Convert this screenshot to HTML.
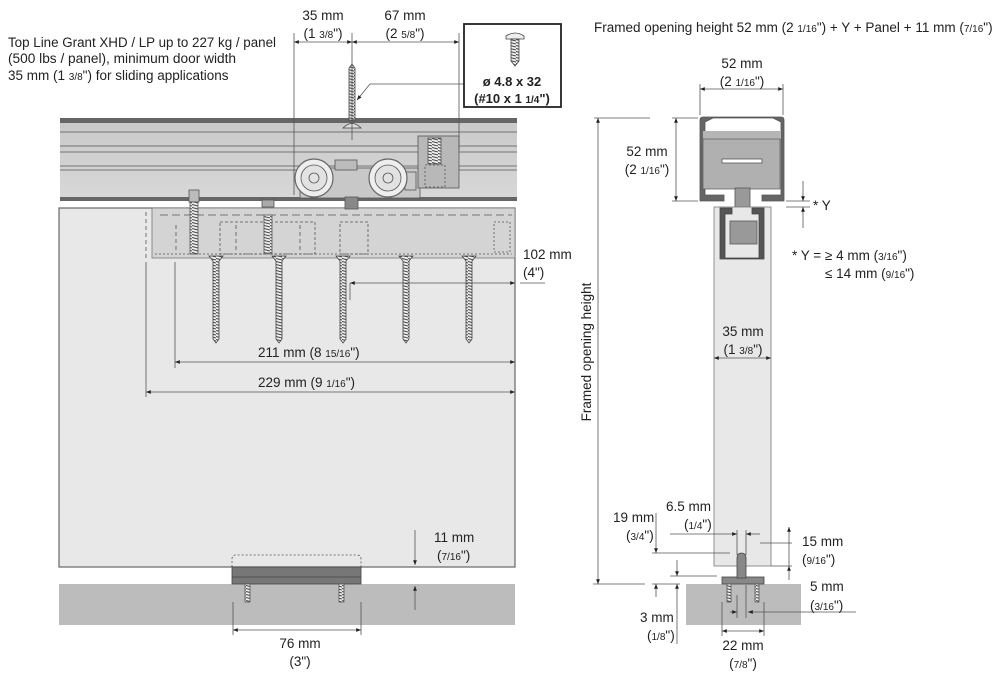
<!DOCTYPE html>
<html><head><meta charset="utf-8"><style>
html,body{margin:0;padding:0;background:#fff}
svg{display:block}
text{font-family:"Liberation Sans Narrow","Liberation Sans",sans-serif;fill:#222;font-size:13.5px}
.s{font-size:10px}
.b{font-weight:bold;font-family:"Liberation Sans",sans-serif;font-size:13px}
</style></head><body>
<svg width="1000" height="686" viewBox="0 0 1000 686" xmlns="http://www.w3.org/2000/svg">
<defs>
<marker id="a" viewBox="0 0 10 10" refX="10" refY="5" markerWidth="8" markerHeight="6" orient="auto-start-reverse"><path d="M0,1 L10,5 L0,9 z" fill="#222"/></marker>
<pattern id="th" width="6" height="3" patternUnits="userSpaceOnUse"><rect width="6" height="3" fill="#eee"/><path d="M0,0.5 L6,2" stroke="#444" stroke-width="1"/></pattern>
<linearGradient id="tg" x1="0" y1="0" x2="0" y2="1"><stop offset="0" stop-color="#c9c9c9"/><stop offset="1" stop-color="#d8d8d8"/></linearGradient>
</defs>
<g stroke="#555" stroke-width="0.8" fill="none">
<!-- LEFT: track -->
<rect x="60" y="119" width="457" height="82" fill="url(#tg)" stroke="none"/>
<rect x="60" y="118" width="457" height="5" fill="#666" stroke="none"/>
<rect x="60" y="197" width="457" height="4" fill="#666" stroke="none"/>
<line x1="60" y1="132" x2="517" y2="132"/><line x1="60" y1="146" x2="517" y2="146"/><line x1="60" y1="152" x2="517" y2="152"/><line x1="60" y1="166" x2="517" y2="166"/><line x1="60" y1="170" x2="517" y2="170"/>
<!-- panel -->
<rect x="59" y="208" width="456" height="359" fill="#e8e8e8" stroke="#666" stroke-width="1.2"/>
<!-- hanger plate -->
<rect x="152" y="208" width="363" height="50" fill="#d4d4d4" stroke="#777"/>
<line x1="160" y1="215" x2="512" y2="215" stroke-dasharray="8,4"/>
<line x1="155" y1="254" x2="512" y2="254" stroke-dasharray="2,2"/>
<rect x="220" y="222" width="95" height="32" stroke-dasharray="3,2"/>
<rect x="340" y="222" width="28" height="32" stroke-dasharray="3,2"/>
<rect x="494" y="222" width="16" height="30" stroke-dasharray="2,2"/>
<line x1="176" y1="225" x2="176" y2="252" stroke-dasharray="4,3"/><line x1="236" y1="225" x2="236" y2="252" stroke-dasharray="4,3"/><line x1="300" y1="225" x2="300" y2="252" stroke-dasharray="4,3"/>
<line x1="146" y1="212" x2="146" y2="258" stroke-dasharray="4,3"/>
<!-- bolt -->
<rect x="189" y="190" width="10" height="12" fill="#bbb"/>
<rect x="190" y="202" width="8" height="52" fill="url(#th)"/>
<rect x="262" y="200" width="12" height="7" fill="#aaa"/>
<rect x="264" y="215" width="8" height="38" fill="url(#th)"/>
<!-- trolley -->
<rect x="300" y="168" width="120" height="30" fill="#c8c8c8" stroke="#555"/>
<rect x="335" y="160" width="22" height="10" fill="#bbb"/>
<rect x="418" y="136" width="41" height="52" fill="#b8b8b8" stroke="#555"/>
<rect x="428" y="138" width="13" height="26" fill="url(#th)"/>
<rect x="425" y="165" width="20" height="22" stroke-dasharray="2,2"/>
<rect x="405" y="172" width="11" height="18" fill="#c8c8c8"/>
<circle cx="314" cy="178" r="19" fill="#eee" stroke="#666" stroke-width="1.2"/><circle cx="314" cy="178" r="13" fill="#e2e2e2"/><circle cx="314" cy="178" r="5"/>
<circle cx="388" cy="178" r="19" fill="#eee" stroke="#666" stroke-width="1.2"/><circle cx="388" cy="178" r="13" fill="#e2e2e2"/><circle cx="388" cy="178" r="5"/>
<rect x="345" y="197" width="13" height="12" fill="#888"/>
<!-- screws below plate -->
<g fill="url(#th)" stroke="#444">
<path d="M209,256 h14 l-4,5 v78 l-3,4 l-3,-4 v-78 z"/>
<path d="M272,256 h14 l-4,5 v78 l-3,4 l-3,-4 v-78 z"/>
<path d="M336,256 h14 l-4,5 v78 l-3,4 l-3,-4 v-78 z"/>
<path d="M399,256 h14 l-4,5 v78 l-3,4 l-3,-4 v-78 z"/>
<path d="M462,256 h14 l-4,5 v78 l-3,4 l-3,-4 v-78 z"/>
<!-- top screw -->
<path d="M349,68 l3,-4 l3,4 v52 h-6 z"/>
</g>
<path d="M343,128 q9,-9 18,0 z" fill="#ddd" stroke="#444"/>
<!-- floor & guide -->
<rect x="59" y="584" width="456" height="41" fill="#bcbcbc" stroke="none"/>
<path d="M232,567 v-8 q0,-4 4,-4 h121 q4,0 4,4 v8" stroke-dasharray="2,2"/>
<rect x="232" y="567" width="129" height="17" fill="#777" stroke="#444"/>
<line x1="232" y1="577" x2="361" y2="577" stroke="#444"/>
<rect x="245" y="584" width="5" height="18" fill="url(#th)"/><rect x="339" y="584" width="5" height="18" fill="url(#th)"/>
<!-- dims left -->
<line x1="294" y1="33" x2="294" y2="195"/><line x1="459" y1="33" x2="459" y2="150"/><line x1="352" y1="33" x2="352" y2="140"/>
<line x1="294" y1="42" x2="352" y2="42" marker-start="url(#a)" marker-end="url(#a)"/>
<line x1="352" y1="42" x2="459" y2="42" marker-start="url(#a)" marker-end="url(#a)"/>
<polyline points="470,84 370,84 357,100" marker-end="url(#a)"/>
<rect x="464" y="24" width="97" height="83" stroke="#222" stroke-width="1.8" fill="#fff"/>
<path d="M506,36 q9,-6 18,0 v3 h-18 z" fill="#eee" stroke="#444"/>
<path d="M511,39 h8 v22 l-4,5 l-4,-5 z" fill="url(#th)" stroke="#444"/>
<line x1="350" y1="283" x2="350" y2="300"/><line x1="520" y1="283" x2="545" y2="283"/>
<line x1="350" y1="283" x2="515" y2="283" marker-start="url(#a)" marker-end="url(#a)"/>
<line x1="175" y1="262" x2="175" y2="368"/><line x1="146" y1="262" x2="146" y2="397"/>
<line x1="175" y1="362" x2="515" y2="362" marker-start="url(#a)" marker-end="url(#a)"/>
<line x1="146" y1="392" x2="515" y2="392" marker-start="url(#a)" marker-end="url(#a)"/>
<line x1="415" y1="530" x2="415" y2="565" marker-end="url(#a)"/>
<line x1="415" y1="610" x2="415" y2="586" marker-end="url(#a)"/>
<line x1="233" y1="602" x2="233" y2="635"/><line x1="361" y1="602" x2="361" y2="635"/>
<line x1="233" y1="630" x2="361" y2="630" marker-start="url(#a)" marker-end="url(#a)"/>

<!-- RIGHT section -->
<path d="M700,120 q0,-3 3,-3 h78 q3,0 3,3 v81 h-22 v-6 h19 v-73 l-8,-4 h-60 l-8,4 v73 h19 v6 h-24 z" fill="#666" stroke="#555"/>
<rect x="703" y="131" width="77" height="8" fill="#b5b5b5" stroke="none"/>
<rect x="703" y="139" width="77" height="50" fill="#b0b0b0" stroke="#666"/>
<rect x="722" y="159" width="40" height="4" fill="#fff" stroke="#555"/>
<rect x="735" y="188" width="15" height="30" fill="#999" stroke="#555"/>
<rect x="714" y="207" width="57" height="359" fill="#e8e8e8" stroke="#777"/>
<path d="M720,208 h12 v6 h-7 v44 h34 v-44 h-7 v-6 h12 v51 h-44 z" fill="#555" stroke="#444"/>
<rect x="730" y="221" width="27" height="23" fill="#999" stroke="#555"/>
<rect x="686" y="584" width="115" height="41" fill="#bcbcbc" stroke="none"/>
<rect x="722" y="577" width="42" height="7" fill="#888" stroke="#444"/>
<path d="M737,578 v-20 q0,-5 4.5,-5 q4.5,0 4.5,5 v20 z" fill="#888" stroke="#444"/>
<line x1="737" y1="540" x2="737" y2="555"/><line x1="746" y1="540" x2="746" y2="555"/>
<rect x="727" y="584" width="4" height="18" fill="url(#th)"/><rect x="755" y="584" width="4" height="18" fill="url(#th)"/>
<!-- right dims -->
<line x1="700" y1="84" x2="700" y2="115"/><line x1="783" y1="84" x2="783" y2="115"/>
<line x1="700" y1="89" x2="783" y2="89" marker-start="url(#a)" marker-end="url(#a)"/>
<line x1="594" y1="118" x2="650" y2="118"/><line x1="672" y1="118" x2="698" y2="118"/><line x1="672" y1="201" x2="698" y2="201"/>
<line x1="676" y1="118" x2="676" y2="201" marker-start="url(#a)" marker-end="url(#a)"/>
<line x1="598" y1="118" x2="598" y2="584" marker-start="url(#a)" marker-end="url(#a)"/>
<line x1="593" y1="584" x2="645" y2="584"/>
<line x1="786" y1="201" x2="810" y2="201"/><line x1="786" y1="207" x2="810" y2="207"/>
<line x1="803" y1="181" x2="803" y2="201" marker-end="url(#a)"/><line x1="803" y1="228" x2="803" y2="207" marker-end="url(#a)"/>
<line x1="714" y1="358" x2="771" y2="358" marker-start="url(#a)" marker-end="url(#a)"/>
<line x1="670" y1="534" x2="737" y2="534" marker-end="url(#a)"/><line x1="760" y1="534" x2="746" y2="534" marker-end="url(#a)"/>
<line x1="737" y1="530" x2="737" y2="540"/><line x1="746" y1="530" x2="746" y2="540"/>
<line x1="652" y1="553" x2="730" y2="553"/><line x1="670" y1="576" x2="717" y2="576"/>
<line x1="656" y1="513" x2="656" y2="553" marker-end="url(#a)"/><line x1="656" y1="597" x2="656" y2="584" marker-end="url(#a)"/>
<line x1="652" y1="584" x2="680" y2="584"/>
<line x1="677" y1="560" x2="677" y2="576" marker-end="url(#a)"/><line x1="677" y1="644" x2="677" y2="584" marker-end="url(#a)"/>
<line x1="760" y1="543" x2="792" y2="543"/><line x1="771" y1="566" x2="792" y2="566"/>
<line x1="789" y1="527" x2="789" y2="543" marker-start="url(#a)"/><line x1="789" y1="543" x2="789" y2="566"/><line x1="789" y1="580" x2="789" y2="566" marker-end="url(#a)"/>
<line x1="856" y1="612" x2="748" y2="612" marker-end="url(#a)"/><line x1="730" y1="612" x2="737" y2="612" marker-end="url(#a)"/>
<line x1="737" y1="595" x2="737" y2="618"/><line x1="746" y1="585" x2="746" y2="618"/>
<line x1="722" y1="602" x2="722" y2="636"/><line x1="764" y1="602" x2="764" y2="636"/>
<line x1="722" y1="631" x2="764" y2="631" marker-start="url(#a)" marker-end="url(#a)"/>
</g>
<!-- TEXT -->
<text x="8" y="47" textLength="268" lengthAdjust="spacingAndGlyphs">Top Line Grant XHD / LP up to 227 kg / panel</text>
<text x="8" y="63" textLength="228" lengthAdjust="spacingAndGlyphs">(500 lbs / panel), minimum door width</text>
<text x="8" y="80">35 mm (1 <tspan class="s">3/8</tspan>") for sliding applications</text>
<text x="323" y="20" text-anchor="middle">35 mm</text>
<text x="323" y="38" text-anchor="middle">(1 <tspan class="s">3/8</tspan>")</text>
<text x="405" y="20" text-anchor="middle">67 mm</text>
<text x="405" y="38" text-anchor="middle">(2 <tspan class="s">5/8</tspan>")</text>
<text class="b" x="512" y="86" text-anchor="middle">ø 4.8 x 32</text>
<text class="b" x="512" y="103" text-anchor="middle">(#10 x 1 <tspan style="font-size:10px">1/4</tspan>")</text>
<text x="523" y="259">102 mm</text>
<text x="523" y="277">(4")</text>
<text x="258" y="357">211 mm (8 <tspan class="s">15/16</tspan>")</text>
<text x="258" y="387">229 mm (9 <tspan class="s">1/16</tspan>")</text>
<text x="434" y="542">11 mm</text>
<text x="437" y="560">(<tspan class="s">7/16</tspan>")</text>
<text x="300" y="648" text-anchor="middle">76 mm</text>
<text x="300" y="666" text-anchor="middle">(3")</text>
<text x="594" y="32">Framed opening height 52 mm (2 <tspan class="s">1/16</tspan>") + Y + Panel + 11 mm (<tspan class="s">7/16</tspan>")</text>
<text x="742" y="68" text-anchor="middle">52 mm</text>
<text x="742" y="86" text-anchor="middle">(2 <tspan class="s">1/16</tspan>")</text>
<text x="647" y="156" text-anchor="middle">52 mm</text>
<text x="647" y="174" text-anchor="middle">(2 <tspan class="s">1/16</tspan>")</text>
<text x="813" y="210">* Y</text>
<text x="792" y="260">* Y = ≥ 4 mm (<tspan class="s">3/16</tspan>")</text>
<text x="825" y="278">≤ 14 mm (<tspan class="s">9/16</tspan>")</text>
<text transform="translate(591,352) rotate(-90)" text-anchor="middle">Framed opening height</text>
<text x="743" y="336" text-anchor="middle">35 mm</text>
<text x="743" y="354" text-anchor="middle">(1 <tspan class="s">3/8</tspan>")</text>
<text x="666" y="511">6.5 mm</text>
<text x="684" y="529">(<tspan class="s">1/4</tspan>")</text>
<text x="613" y="522">19 mm</text>
<text x="626" y="540">(<tspan class="s">3/4</tspan>")</text>
<text x="802" y="546">15 mm</text>
<text x="802" y="564">(<tspan class="s">9/16</tspan>")</text>
<text x="810" y="591">5 mm</text>
<text x="810" y="610">(<tspan class="s">3/16</tspan>")</text>
<text x="640" y="622">3 mm</text>
<text x="647" y="640">(<tspan class="s">1/8</tspan>")</text>
<text x="743" y="650" text-anchor="middle">22 mm</text>
<text x="743" y="668" text-anchor="middle">(<tspan class="s">7/8</tspan>")</text>
</svg>
</body></html>
